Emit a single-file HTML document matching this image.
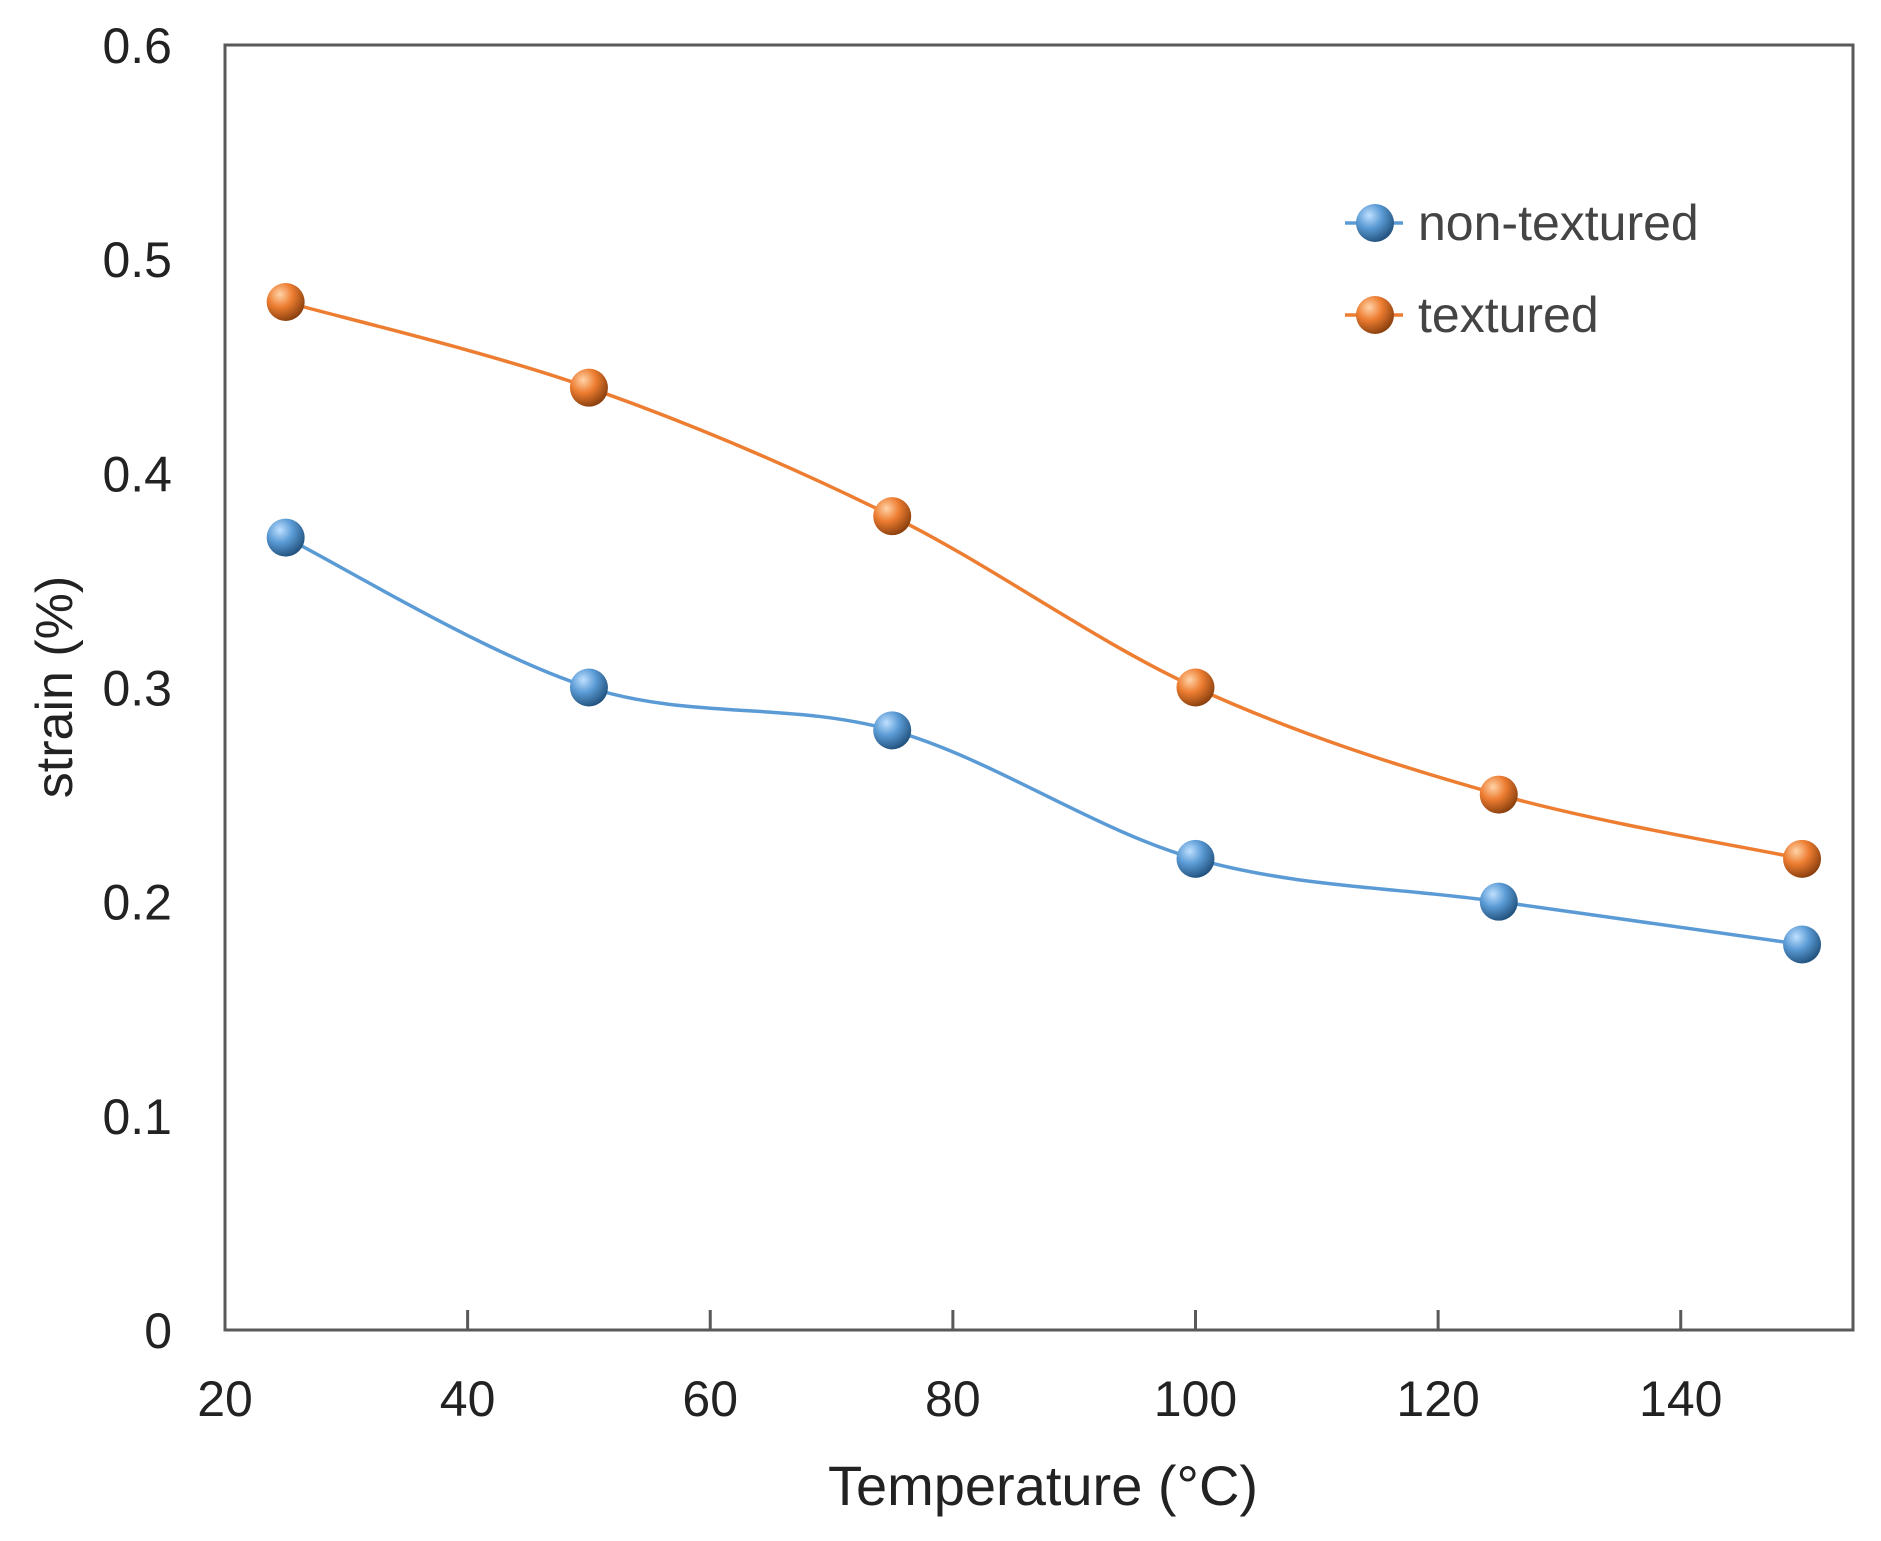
<!DOCTYPE html>
<html><head><meta charset="utf-8"><style>
body{margin:0;background:#fff;}
svg{display:block;font-family:"Liberation Sans",sans-serif;}
</style></head><body>
<svg id="chart" width="1881" height="1541" viewBox="0 0 1881 1541">
<defs>
<radialGradient id="gb" cx="0.35" cy="0.3" r="0.75"><stop offset="0" stop-color="#bfe0ff"/><stop offset="0.45" stop-color="#5b9bd5"/><stop offset="1" stop-color="#1f4e79"/></radialGradient>
<radialGradient id="go" cx="0.35" cy="0.3" r="0.75"><stop offset="0" stop-color="#ffd3a8"/><stop offset="0.45" stop-color="#ed7d31"/><stop offset="1" stop-color="#843c0c"/></radialGradient>
</defs>
<g id="axes"></g>
<g id="series"></g>
<g id="legend"></g>
</svg>
<script>
const temps = [25, 50, 75, 100, 125, 150];
const nonTextured = [0.37, 0.30, 0.28, 0.22, 0.20, 0.18];
const textured = [0.48, 0.44, 0.38, 0.30, 0.25, 0.22];
const xTicks = [20, 40, 60, 80, 100, 120, 140];
const yTicks = [0, 0.1, 0.2, 0.3, 0.4, 0.5, 0.6];

const NS = "http://www.w3.org/2000/svg";
const L = 225, R = 1853, T = 45, B = 1330;
const xMin = 20, xMax = 154.2, yMin = 0, yMax = 0.6;
const sx = v => L + (v - xMin) / (xMax - xMin) * (R - L);
const sy = v => B - (v - yMin) / (yMax - yMin) * (B - T);
function mk(tag, attrs, parent, text) {
  const e = document.createElementNS(NS, tag);
  for (const k in attrs) e.setAttribute(k, attrs[k]);
  if (text !== undefined) e.textContent = text;
  parent.appendChild(e);
  return e;
}
const axes = document.getElementById('axes');
let e = mk('rect', {x: L, y: T, width: R - L, height: B - T, fill: 'none', stroke: '#595959', 'stroke-width': 3}, axes);


xTicks.forEach(t => {
  const x = sx(t);
  let tk = mk('line', {x1: x, x2: x, y1: B, y2: B - 20, stroke: '#595959', 'stroke-width': 3}, axes);
  
  
  let lb = mk('text', {x: x, y: 1416, 'text-anchor': 'middle', 'font-size': 50, fill: '#222'}, axes, String(t));
  
  
});
yTicks.forEach(t => {
  const y = sy(t);
  let lb = mk('text', {x: 172, y: y + 18, 'text-anchor': 'end', 'font-size': 50, fill: '#222'}, axes, t === 0 ? '0' : t.toFixed(1));
  
  
});
e = mk('text', {x: 1043, y: 1505, 'text-anchor': 'middle', 'font-size': 56, fill: '#222'}, axes, 'Temperature (°C)');


e = mk('text', {x: 0, y: 0, 'text-anchor': 'middle', 'font-size': 52, fill: '#222', transform: 'translate(72,687) rotate(-90)'}, axes, 'strain (%)');



function smoothPath(xs, ys) {
  const p = xs.map((x, i) => [sx(x), sy(ys[i])]);
  let d = 'M' + p[0][0] + ',' + p[0][1];
  for (let i = 0; i < p.length - 1; i++) {
    const p0 = p[Math.max(0, i - 1)], p1 = p[i], p2 = p[i + 1], p3 = p[Math.min(p.length - 1, i + 2)];
    const c1 = [p1[0] + (p2[0] - p0[0]) / 6, p1[1] + (p2[1] - p0[1]) / 6];
    const c2 = [p2[0] - (p3[0] - p1[0]) / 6, p2[1] - (p3[1] - p1[1]) / 6];
    d += ' C' + c1 + ' ' + c2 + ' ' + p2;
  }
  return d;
}
const series = document.getElementById('series');
function drawSeries(vals, color, grad, name) {
  const g = mk('g', {}, series);
  
  
  const ln = mk('path', {d: smoothPath(temps, vals), fill: 'none', stroke: color, 'stroke-width': 3.5}, g);
  
  
  vals.forEach((v, i) => {
    const c = mk('circle', {cx: sx(temps[i]), cy: sy(v), r: 19, fill: grad}, g);
    
    
  });
}
drawSeries(nonTextured, '#5b9bd5', 'url(#gb)', 'non-textured');
drawSeries(textured, '#ed7d31', 'url(#go)', 'textured');

const legend = document.getElementById('legend');
[['non-textured', '#5b9bd5', 'url(#gb)', 223], ['textured', '#ed7d31', 'url(#go)', 315]].forEach(([n, c, gr, y]) => {
  const g = mk('g', {}, legend);
  
  
  mk('line', {x1: 1345, x2: 1403, y1: y, y2: y, stroke: c, 'stroke-width': 3.5}, g);
  mk('circle', {cx: 1375, cy: y, r: 19, fill: gr}, g);
  const t = mk('text', {x: 1418, y: y + 17, 'font-size': 50, fill: '#444'}, g, n);
  
  
});
</script>
</body></html>
